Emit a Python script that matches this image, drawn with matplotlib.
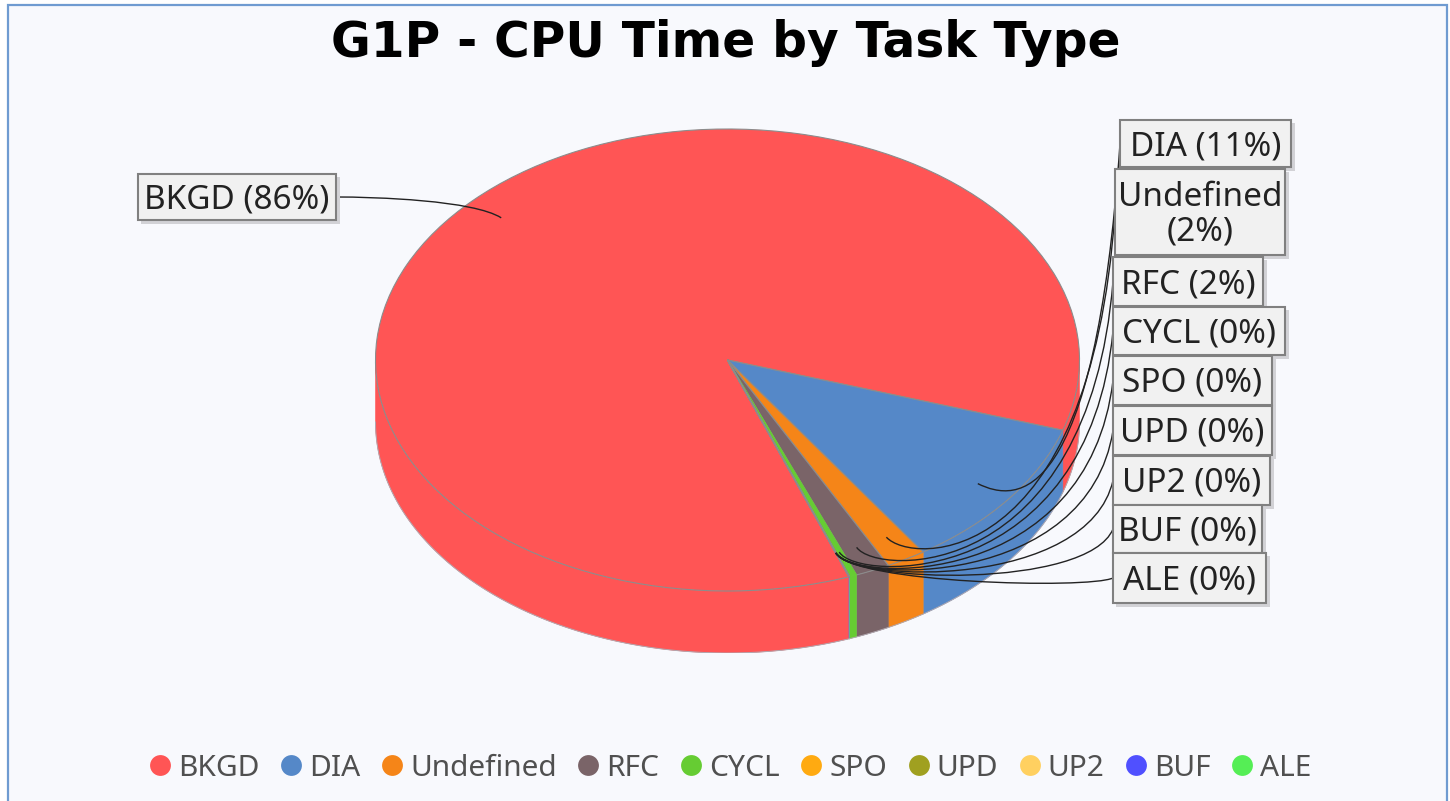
import numpy as np
import matplotlib
matplotlib.use('Agg')
import matplotlib.pyplot as plt
from matplotlib.lines import Line2D
from matplotlib.patches import PathPatch, Rectangle
from matplotlib.path import Path

# Values
tasks = ['BKGD', 'DIA', 'Undefined', 'RFC', 'CYCL', 'SPO', 'UPD', 'UP2', 'BUF', 'ALE']
shares = [85.53, 10.7, 1.83, 1.58, 0.33, 0.01, 0.008, 0.006, 0.004, 0.002]
label_texts = ['BKGD (86%)', 'DIA (11%)', 'Undefined\n(2%)', 'RFC (2%)', 'CYCL (0%)',
               'SPO (0%)', 'UPD (0%)', 'UP2 (0%)', 'BUF (0%)', 'ALE (0%)']
colors = ['#ff5555', '#5588c8', '#f58518', '#7a6468', '#66cc33',
          '#ffaa11', '#a0a020', '#ffd060', '#5050ff', '#55ee55']

# Label boxes in pixels: left, top, right, bottom
label_boxes = [(138, 174, 336, 220), (1120, 120, 1291, 167), (1115, 169, 1285, 255),
               (1113, 257, 1263, 306), (1113, 307, 1285, 355), (1113, 356, 1272, 405),
               (1113, 406, 1272, 455), (1113, 456, 1270, 505), (1113, 505, 1262, 553),
               (1113, 553, 1266, 603)]

W, H = 1450, 801
cx, cy, rx, ry, depth = 727.5, 360, 352, 231, 62
bg = '#f8f9fd'
edge = '#8c8c8c'
label_font = 'Noto Sans'

fig = plt.figure(figsize=(W / 100, H / 100), dpi=100, facecolor='white')

# Overlay in pixel coordinates for background, labels and leaders
back = fig.add_axes([0, 0, 1, 1], zorder=0)
back.set_xlim(0, W)
back.set_ylim(H, 0)
back.axis('off')
back.add_patch(Rectangle((8, 5), 1439, 800, facecolor=bg, edgecolor='#6f9bd1', linewidth=1.6))
back.text(726, 43, 'G1P - CPU Time by Task Type', ha='center', va='center',
          fontsize=35, fontweight='bold', color='black', family='DejaVu Sans')

# Pie axes: one data unit is rx pixels across and ry pixels down
bottom = H - (cy + ry + depth)
ax = fig.add_axes([(cx - rx) / W, bottom / H, 2 * rx / W, (2 * ry + depth) / H], zorder=1)
ax.patch.set_alpha(0)
wedges, _ = ax.pie(shares, colors=colors, startangle=290.2, counterclock=False, radius=1,
                   wedgeprops=dict(edgecolor=edge, linewidth=0.8, zorder=3))
wedges[4].set_edgecolor(colors[4])
ax.set_aspect('auto')
ax.set_xlim(-1, 1)
ax.set_ylim(-1 - depth / ry, 1)
ax.axis('off')

# Side wall of the disc, only the part of each slice on the front half
drop = depth / ry
for w, c in zip(wedges, colors):
    a1, a2 = w.theta1, w.theta2
    for k in (-360, 0):
        lo, hi = max(a1 + k, -180), min(a2 + k, 0)
        if hi <= lo:
            continue
        t = np.radians(np.linspace(lo, hi, 200))
        xs = np.r_[np.cos(t), np.cos(t[::-1])]
        ys = np.r_[np.sin(t), np.sin(t[::-1]) - drop]
        ax.fill(xs, ys, facecolor=c, edgecolor=c, linewidth=0.4, zorder=2)
t = np.radians(np.linspace(-180, 0, 400))
ax.plot(np.cos(t), np.sin(t) - drop, color='#b0a8b0', lw=0.7, zorder=2.5)

# Labels and leaders sit on top
top = fig.add_axes([0, 0, 1, 1], zorder=2)
top.set_xlim(0, W)
top.set_ylim(H, 0)
top.axis('off')
top.patch.set_alpha(0)


def ell(angle, r):
    a = np.radians(angle)
    return cx + rx * r * np.cos(a), cy - ry * r * np.sin(a)


for w, box in zip(wedges, label_boxes):
    mid = (w.theta1 + w.theta2) / 2
    p0 = ell(mid, 0.89)
    on_left = box[0] < cx
    end = (box[2], (box[1] + box[3]) / 2) if on_left else (box[0], (box[1] + box[3]) / 2)
    if on_left:
        p1 = ell(mid, 1.0)
        p2 = (end[0] + 40, end[1])
    else:
        p1 = ell(mid, 1.03)
        p2 = (end[0] - 25, p1[1] + 6)
    path = Path([p0, p1, p2, end], [Path.MOVETO, Path.CURVE4, Path.CURVE4, Path.CURVE4])
    top.add_patch(PathPatch(path, facecolor='none', edgecolor='#222222', linewidth=1.0, zorder=3))

for text, box in zip(label_texts, label_boxes):
    x0, y0, x1, y1 = box
    top.add_patch(Rectangle((x0 + 3, y0 + 3), x1 - x0 + 1, y1 - y0 + 1, facecolor='#d2d2d6',
                            edgecolor='none', zorder=4))
    top.add_patch(Rectangle((x0, y0), x1 - x0, y1 - y0, facecolor='#f1f1f1',
                            edgecolor='#808080', linewidth=1.5, zorder=5))
    top.text((x0 + x1) / 2, (y0 + y1) / 2 + 3, text, ha='center', va='center', fontsize=24,
             color='#222222', family=label_font, linespacing=1.05, zorder=6)

handles = [Line2D([], [], linestyle='none', marker='o', markersize=15, color=c,
                  markeredgecolor='none') for c in colors]
top.legend(handles, tasks, loc='center', bbox_to_anchor=(727 / W, 1 - 768 / H),
           bbox_transform=fig.transFigure, ncol=10, frameon=False,
           labelcolor='#505050', columnspacing=0.46, handletextpad=0.0, handlelength=1.2,
           prop=dict(family=label_font, size=21.5))

fig.savefig('out.png', dpi=100, facecolor='white')
